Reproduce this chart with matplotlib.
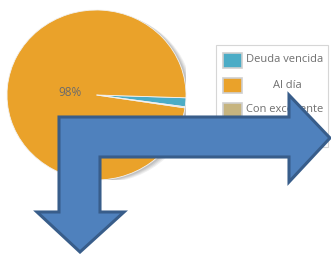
import matplotlib
matplotlib.use("Agg")
import matplotlib.pyplot as plt
from matplotlib.patches import Ellipse, Polygon, Rectangle

# data
categories = ["Deuda vencida", "Al día", "Con excedente"]
shares = [1.7, 98.1, 0.2]
colors = ["#4BACC6", "#EAA22A", "#C6B47F"]

W, H = 331, 254
fig = plt.figure(figsize=(W / 100, H / 100), dpi=100)

# pie axes, placed in pixels (centre ~ (96.5, 95))
cx, cy, rx, ry = 96.5, 95, 89.5, 85
ax = fig.add_axes([(cx - rx) / W, (H - cy - ry) / H, 2 * rx / W, 2 * ry / H])

# soft shadow to the right of the pie
for i, a in enumerate([0.06, 0.06, 0.07, 0.08]):
    ax.add_patch(Ellipse((0.07 - i * 0.015, -0.03 + i * 0.006), 2.0, 2.0,
                         color="black", alpha=a, lw=0, zorder=0))


def pct_label(p):
    return f"{p:.0f}%" if p > 50 else ""


wedges, texts, autotexts = ax.pie(
    shares, colors=colors, startangle=-8, counterclock=True,
    autopct=pct_label, pctdistance=0.3,
    wedgeprops=dict(edgecolor="#f2f2f2", linewidth=0.6),
    textprops=dict(color="#6b6b6b", fontsize=8.5, family="Open Sans"),
)
ax.set_aspect("auto")
ax.set_xlim(-1, 1)
ax.set_ylim(-1, 1)
ax.axis("off")

# overlay in pixel coordinates for legend and arrow
ov = fig.add_axes([0, 0, 1, 1])
ov.set_xlim(0, W)
ov.set_ylim(H, 0)
ov.axis("off")
ov.patch.set_alpha(0)

# legend box
ov.add_patch(Rectangle((216, 45), 112, 102, facecolor="white",
                       edgecolor="#d6d6d6", lw=0.8, zorder=2))
for i, (name, col) in enumerate(zip(categories, colors)):
    y = 60 + 25 * i
    ov.add_patch(Rectangle((223, y - 7.5), 19, 15, facecolor=col,
                           edgecolor="#cfcfcf", lw=1.2, zorder=3))
    if i == 1:
        ov.text(287, y, name, ha="center", va="center", fontsize=8,
                color="#6f6f6f", family="Open Sans", zorder=3)
    else:
        ov.text(246, y, name, ha="left", va="center", fontsize=8,
                color="#6f6f6f", family="Open Sans", zorder=3)

# bent arrow
arrow = [(59, 117), (289, 117), (289, 95), (330, 138), (289, 182),
         (289, 157), (100, 157), (100, 212), (124, 212), (80, 252),
         (37, 212), (59, 212)]
ov.add_patch(Polygon(arrow, closed=True, facecolor="#4F81BD",
                     edgecolor="#385D8A", lw=2.2, joinstyle="miter", zorder=5))

fig.savefig("out.png", dpi=100)
